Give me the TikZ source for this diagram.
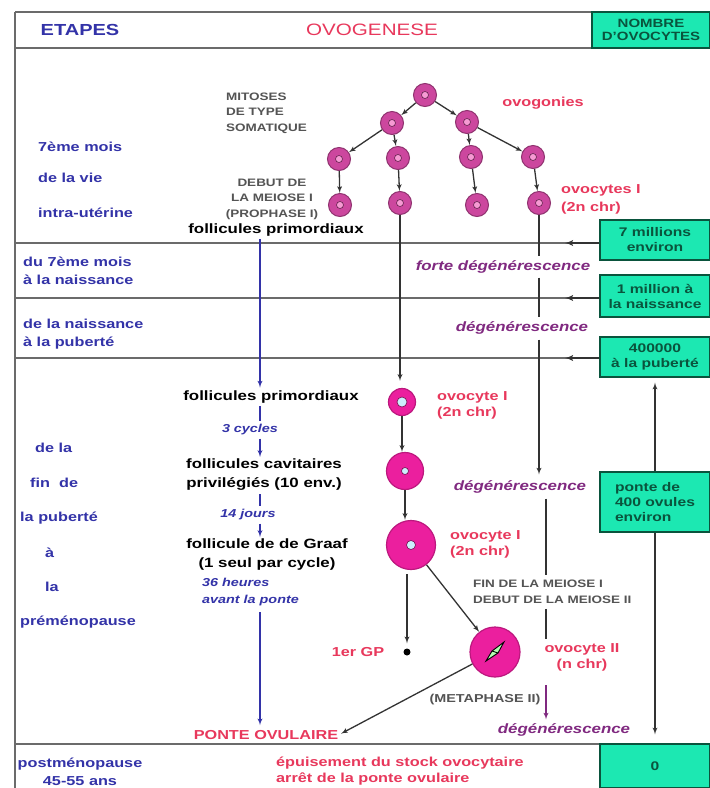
\documentclass[tikz,border=0pt]{standalone}
\usepackage{fontspec}
\setmainfont{Liberation Sans}[FakeStretch=1.25]
\usetikzlibrary{arrows}
\definecolor{etape}{rgb}{0.2, 0.2, 0.66}
\definecolor{rouge}{rgb}{0.91, 0.22, 0.36}
\definecolor{mauve}{rgb}{0.5, 0.16, 0.5}
\definecolor{turq}{rgb}{0.11, 0.91, 0.7}
\definecolor{turqd}{rgb}{0.04, 0.33, 0.24}
\definecolor{trait}{rgb}{0.42, 0.42, 0.42}
\definecolor{gristxt}{rgb}{0.33, 0.33, 0.33}
\definecolor{mage}{rgb}{0.92, 0.12, 0.62}
\definecolor{prune}{rgb}{0.8, 0.28, 0.62}
\tikzset{sep/.style = {trait, line width = 1.8}}
\tikzset{fl/.style = {-latex', line width = 1.3, draw = black!80}}
\tikzset{bl/.style = {-latex', line width = 1.3, draw = etape}}
\tikzset{bleu/.style = {line width = 1.3, draw = etape}}
\tikzset{etp/.style = {font = \bfseries\fontsize{13}{18}\selectfont, text = etape, inner sep = 0, anchor = west, align = left}}
\tikzset{txt/.style = {font = \bfseries\fontsize{13.5}{19}\selectfont, inner sep = 0, align = center}}
\tikzset{oolab/.style = {font = \bfseries\fontsize{13}{16}\selectfont, text = rouge, inner sep = 0, align = center}}
\tikzset{deg/.style = {font = \bfseries\itshape\fontsize{13.5}{16}\selectfont, text = mauve, inner sep = 0}}
\tikzset{tim/.style = {font = \bfseries\itshape\fontsize{11.5}{17}\selectfont, text = etape, inner sep = 0}}
\tikzset{gr/.style = {font = \bfseries\fontsize{10.8}{15.5}\selectfont, text = gristxt, inner sep = 0, align = center}}
\tikzset{cnt/.style = {fill = turq, draw = turqd, line width = 1.3, minimum width = 110, text = turqd, font = \bfseries\fontsize{12.5}{15}\selectfont, align = center, inner sep = 0}}
\tikzset{tcell/.style = {circle, fill = prune, draw = prune!70!black, line width = 1, minimum size = 23, inner sep = 0,
    path picture = {\filldraw[fill = mage!45, draw = prune!50!black, line width = 0.6] (path picture bounding box.center) circle (3.5);}}}
\tikzset{fcell/.style = {circle, fill = mage, draw = mage!80!black, line width = 1.2, inner sep = 0,
    path picture = {\filldraw[fill = white!80!cyan, draw = mage!50!black, line width = 0.6] (path picture bounding box.center) circle (#1);}}}

\begin{document}
\begin{tikzpicture}[x = 1pt, y = -1pt]
    \useasboundingbox [fill = white] (0, 0) rectangle (710, 788);

    % grille du tableau
    \draw [sep] (15, 12) -- (592, 12);
    \draw [sep] (15, 48) -- (592, 48);
    \draw [sep] (15, 243) -- (600, 243);
    \draw [sep] (15, 298) -- (600, 298);
    \draw [sep] (15, 358) -- (600, 358);
    \draw [sep] (15, 744) -- (600, 744);
    \draw [sep] (15, 12) -- (15, 788);

    \node [etp, anchor = center, font = \bfseries\fontsize{16}{18}\selectfont] (etapes) at (80, 30) {ETAPES};
    \node [oolab, font = \fontsize{16.5}{18}\selectfont] (ovog) at (372, 30) {OVOGENESE};
    \node [cnt, minimum width = 118, minimum height = 36, font = \bfseries\fontsize{12}{13}\selectfont] (nb) at (651, 30) {NOMBRE\\D'OVOCYTES};

    % etapes
    \node [etp] (s1a) at (38, 147) {7ème mois};
    \node [etp] (s1b) at (38, 178) {de la vie};
    \node [etp] (s1c) at (38, 213) {intra-utérine};
    \node [etp] (s2) at (23, 271) {du 7ème mois\\à la naissance};
    \node [etp] (s3) at (23, 334) {de la naissance\\à la puberté};
    \node [etp] (s4a) at (35, 448) {de la};
    \node [etp] (s4b) at (30, 483) {fin\ \ de};
    \node [etp] (s4c) at (20, 518) {la puberté};
    \node [etp] (s4d) at (45, 553) {à};
    \node [etp] (s4e) at (45, 587) {la};
    \node [etp] (s4f) at (20, 622) {préménopause};
    \node [etp, anchor = center, align = center] (s5) at (80, 772) {postménopause\\45-55 ans};

    % ovogonies
    \node [tcell] (og) at (425, 95) {};
    \node [tcell] (og1) at (392, 123) {};
    \node [tcell] (og2) at (467, 122) {};
    \node [tcell] (oc1) at (339, 159) {};
    \node [tcell] (oc2) at (398, 158) {};
    \node [tcell] (oc3) at (471, 157) {};
    \node [tcell] (oc4) at (533, 157) {};
    \node [tcell] (oo1) at (340, 205) {};
    \node [tcell] (oo2) at (400, 203) {};
    \node [tcell] (oo3) at (477, 205) {};
    \node [tcell] (oo4) at (539, 203) {};
    \draw [fl] (og) -- (og1);
    \draw [fl] (og) -- (og2);
    \draw [fl] (og1) -- (oc1);
    \draw [fl] (og1) -- (oc2);
    \draw [fl] (og2) -- (oc3);
    \draw [fl] (og2) -- (oc4);
    \draw [fl] (oc1) -- (oo1);
    \draw [fl] (oc2) -- (oo2);
    \draw [fl] (oc3) -- (oo3);
    \draw [fl] (oc4) -- (oo4);

    \node [gr, anchor = west, align = left] (mit) at (226, 113) {MITOSES\\DE TYPE\\SOMATIQUE};
    \node [oolab] (ogn) at (543, 103) {ovogonies};
    \node [gr] (deb) at (272, 199) {DEBUT DE\\LA MEIOSE I\\(PROPHASE I)};
    \node [oolab, anchor = west, align = left, font = \bfseries\fontsize{13}{18}\selectfont] (ocl) at (561, 199) {ovocytes I\\(2n chr)};
    \node [txt] (fp1) at (276, 230) {follicules primordiaux};

    % de la puberte a la premenopause
    \node [txt] (fp2) at (271, 397) {follicules primordiaux};
    \node [tim] (t3) at (250, 430) {3 cycles};
    \node [txt] (fcv) at (264, 475) {follicules cavitaires\\privilégiés (10 env.)};
    \node [tim] (t14) at (248, 515) {14 jours};
    \node [txt] (fgf) at (267, 555) {follicule de de Graaf\\(1 seul par cycle)};
    \node [tim, anchor = west, align = left] (t36) at (202, 592) {36 heures\\avant la ponte};
    \node [oolab] (ponte) at (266, 735) {PONTE OVULAIRE};

    \node [fcell = 5, minimum size = 27] (pf) at (402, 402) {};
    \node [fcell = 3.5, minimum size = 37] (fcav) at (405, 471) {};
    \node [fcell = 4.5, minimum size = 49] (fgr) at (411, 545) {};
    \node [circle, fill = mage, draw = mage!80!black, line width = 1.2, inner sep = 0, minimum size = 50,
      path picture = {\filldraw [shift = {(path picture bounding box.center)}, fill = white!70!green, draw = black, line width = 0.9]
        (-9, 9) -- (-3, -1) -- (9, -10) -- (3, 1) -- cycle (-3, -1) -- (3, 1);}] (ov2) at (495, 652) {};
    \node [circle, fill = black, inner sep = 0, minimum size = 7] (gp) at (407, 652) {};

    \node [oolab, anchor = west, align = left] (o1a) at (437, 405) {ovocyte I\\(2n chr)};
    \node [oolab, anchor = west, align = left] (o1b) at (450, 544) {ovocyte I\\(2n chr)};
    \node [oolab] (o2) at (582, 657) {ovocyte II\\(n chr)};
    \node [oolab] (gpl) at (358, 652) {1er GP};
    \node [gr, anchor = west, align = left] (fin) at (473, 592) {FIN DE LA MEIOSE I\\DEBUT DE LA MEIOSE II};
    \node [gr, font = \bfseries\fontsize{11.5}{15}\selectfont] (meta) at (485, 700) {(METAPHASE II)};

    \draw [fl, shorten > = 7] (oo2) -- (oo2 |- pf.north);
    \draw [fl] (pf) -- (pf |- fcav.north);
    \draw [fl] (fcav) -- (fcav |- fgr.north);
    \draw [fl, shorten < = 4, shorten > = 5] (fgr.south -| gp) -- (gp);
    \draw [fl] (fgr) -- (ov2);
    \draw [fl, shorten > = 3] (ov2) -- (ponte.east);

    % fleches bleues
    \coordinate (bx) at (260, 0);
    \draw [bl, shorten < = 3, shorten > = 3] (fp1.south -| bx) -- (fp2.north -| bx);
    \draw [bleu, shorten < = 3, shorten > = 3] (fp2.south -| bx) -- (t3.north -| bx);
    \draw [bl, shorten < = 3, shorten > = 2] (t3.south -| bx) -- (fcv.north -| bx);
    \draw [bleu, shorten < = 3, shorten > = 3] (fcv.south -| bx) -- (t14.north -| bx);
    \draw [bl, shorten < = 3, shorten > = 2] (t14.south -| bx) -- (fgf.north -| bx);
    \draw [bl, shorten < = 6, shorten > = 5] (t36.south -| bx) -- (ponte.north -| bx);

    % degenerescence
    \node [deg] (fdeg) at (503, 267) {forte dégénérescence};
    \node [deg] (deg1) at (522, 328) {dégénérescence};
    \node [deg] (deg2) at (520, 487) {dégénérescence};
    \node [deg] (deg3) at (564, 730) {dégénérescence};
    \coordinate (rx) at (546, 0);
    \draw [line width = 1.2, black!80, shorten > = 4] (oo4) -- (fdeg.north -| oo4);
    \draw [line width = 1.2, black!80, shorten < = 4, shorten > = 4] (fdeg.south -| oo4) -- (deg1.north -| oo4);
    \draw [fl, shorten < = 5, shorten > = 6] (deg1.south -| oo4) -- (deg2.north -| oo4);
    \draw [line width = 1.2, black!80, shorten < = 5, shorten > = 5] (deg2.south -| rx) -- (fin.north -| rx);
    \draw [line width = 1.2, black!80, shorten < = 5, shorten > = 4] (fin.south -| rx) -- (o2.north -| rx);
    \draw [fl, draw = mauve, shorten < = 14, shorten > = 4] (o2.south -| rx) -- (deg3.north -| rx);

    % nombre d'ovocytes
    \node [cnt, minimum height = 40] (c7) at (655, 240) {7 millions\\environ};
    \node [cnt, minimum height = 42] (c1) at (655, 296) {1 million à\\la naissance};
    \node [cnt, minimum height = 40] (c4) at (655, 357) {400000\\à la puberté};
    \node [cnt, minimum height = 60, align = left] (cp) at (655, 502) {ponte de\\400 ovules\\environ};
    \node [cnt, minimum height = 44] (c0) at (655, 766) {0};
    \coordinate (a7) at (565, 243);
    \coordinate (a1) at (565, 298);
    \coordinate (a4) at (565, 358);
    \draw [fl, line width = 1.8] (c7.west |- a7) -- (a7);
    \draw [fl, line width = 1.8] (c1.west |- a1) -- (a1);
    \draw [fl, line width = 1.8] (c4.west |- a4) -- (a4);
    \draw [fl, shorten > = 5] (cp.north) -- (c4.south);
    \draw [fl, shorten > = 9] (cp.south) -- (c0.north);

    \node [oolab, anchor = west, align = left] (epuis) at (276, 771) {épuisement du stock ovocytaire\\arrêt de la ponte ovulaire};
  \end{tikzpicture}
\end{document}
